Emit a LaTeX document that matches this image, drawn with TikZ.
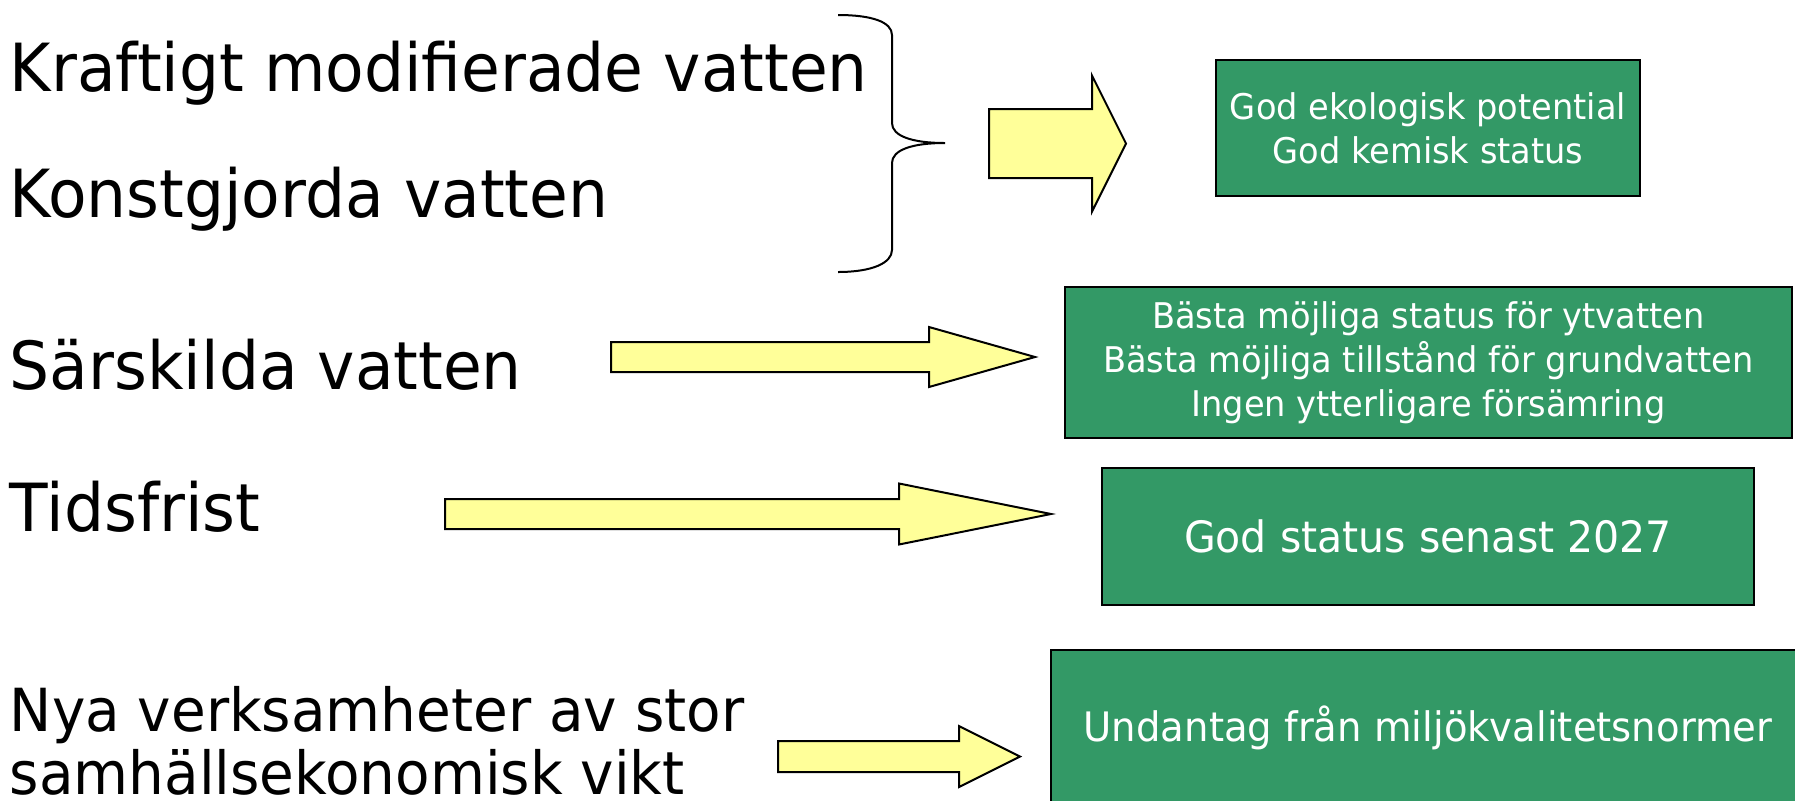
\documentclass[tikz,border=0pt]{standalone}
\usepackage{fontspec}
\newfontfamily\tahomalik{DejaVu Sans}[FakeStretch=0.95]
\definecolor{rutgron}{HTML}{339966}
\definecolor{pilgul}{HTML}{FFFF99}

\begin{document}
\begin{tikzpicture}[x=0.5pt, y=-0.5pt,
    etikett/.style={anchor=base west, inner sep=0pt, font=\tahomalik\fontsize{33.2}{32}\selectfont},
    ruta/.style={draw=black, line width=1pt, fill=rutgron, text=white, align=center, inner sep=0pt},
    liten/.style={font=\tahomalik\fontsize{17.7}{22}\selectfont},
    stor/.style={font=\tahomalik\fontsize{21.6}{24}\selectfont},
    pil/.style={draw=black, line width=1pt, fill=pilgul, line join=miter}]
    \useasboundingbox (0,0) rectangle (1795,800);
    \clip (0,0) rectangle (1795,800);
    \node[etikett] (kmv) at (9.5,91) {Kraftigt modifierade vatten};
    \node[etikett] (kgv) at (9.5,217) {Konstgjorda vatten};
    \node[etikett] (sv) at (9.5,389) {Särskilda vatten};
    \node[etikett] (tf) at (9.5,531) {Tidsfrist};
    \node[etikett, font=\tahomalik\fontsize{29.7}{30}\selectfont] (nya) at (9.5,731) {Nya verksamheter av stor};
    \node[etikett, font=\tahomalik\fontsize{29.7}{30}\selectfont] (samh) at (9.5,794) {samhällsekonomisk vikt};
    \draw[line width=1pt] (838,15) .. controls (872,15) and (892,22) .. (892,35) -- (892,123)
        .. controls (892,136) and (912,143) .. (945,143) .. controls (912,143) and (892,150) .. (892,163)
        -- (892,250) .. controls (892,263) and (872,272) .. (838,272);
    \foreach \xa/\xh/\xb/\ym/\sh/\hh in {989/1092/1126/143.5/34.5/68, 611/929/1035/357/15/30,
        445/899/1051/514/15/30.5, 778/959/1020/756.5/15.5/30.5}
        \draw[pil] (\xa,\ym-\sh) -- (\xh,\ym-\sh) -- (\xh,\ym-\hh) -- (\xb,\ym)
            -- (\xh,\ym+\hh) -- (\xh,\ym+\sh) -- (\xa,\ym+\sh) -- cycle;
    \node[ruta, liten, minimum width=212pt, minimum height=68pt] (mal1) at (1428,128)
        {God ekologisk potential\\God kemisk status};
    \node[ruta, liten, minimum width=363.5pt, minimum height=75.5pt] (mal2) at (1428.5,362.5)
        {Bästa möjliga status för ytvatten\\Bästa möjliga tillstånd för grundvatten\\Ingen ytterligare försämring};
    \node[ruta, stor, minimum width=326pt, minimum height=68.5pt] (mal3) at (1428,536.5)
        {God status senast 2027};
    \node[ruta, stor, font=\tahomalik\fontsize{20.3}{24}\selectfont, minimum width=377pt, minimum height=78pt] (mal4) at (1428,728)
        {Undantag från miljökvalitetsnormer};
\end{tikzpicture}
\end{document}
